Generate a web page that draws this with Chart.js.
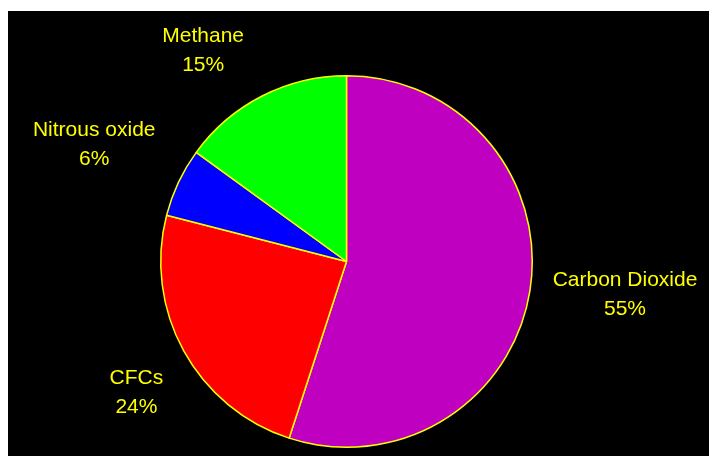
<!DOCTYPE html>
<html>
<head>
<meta charset="utf-8">
<script src="https://cdn.jsdelivr.net/npm/chart.js@4/dist/chart.umd.min.js"></script>
<style>
  html, body { margin: 0; padding: 0; background: #ffffff; width: 709px; height: 456px; overflow: hidden; }
  #wrap { position: absolute; left: 8px; top: 11px; width: 701px; height: 445px; background: #000000; }
  canvas { display: block; }
</style>
</head>
<body>
<div id="wrap"><canvas id="c" width="701" height="445"></canvas></div>
<script>
const categories = ["Carbon Dioxide", "CFCs", "Nitrous oxide", "Methane"];
const shares = [55, 24, 6, 15];
const sliceColors = ["#c000c0", "#ff0000", "#0000ff", "#00ff00"];

const labelPlugin = {
  id: "outerLabels",
  afterDatasetsDraw(chart, args, opts) {
    const ctx = chart.ctx;
    const meta = chart.getDatasetMeta(0);
    const total = shares.reduce((a, b) => a + b, 0);
    ctx.save();
    ctx.font = opts.font;
    ctx.fillStyle = opts.color;
    ctx.textAlign = "center";
    ctx.textBaseline = "middle";
    meta.data.forEach((arc, i) => {
      const p = arc.getProps(["x", "y", "startAngle", "endAngle", "outerRadius"], true);
      const mid = (p.startAngle + p.endAngle) / 2;
      const dx = Math.cos(mid), dy = Math.sin(mid);
      const line1 = categories[i];
      const line2 = Math.round(shares[i] / total * 100) + "%";
      const w = Math.max(ctx.measureText(line1).width, ctx.measureText(line2).width);
      const h = opts.lineGap + opts.textHeight;
      const ax = p.x + (p.outerRadius + opts.gap) * dx;
      const ay = p.y + (p.outerRadius + opts.gap) * dy;
      const n = opts.nudge[i] || [0, 0];
      const cx = ax + dx * w / 2 + n[0];
      const cy = ay + dy * h / 2 + n[1];
      ctx.fillText(line1, cx, cy - opts.lineGap / 2);
      ctx.fillText(line2, cx, cy + opts.lineGap / 2);
    });
    ctx.restore();
  }
};

new Chart(document.getElementById("c"), {
  type: "pie",
  data: {
    labels: categories,
    datasets: [{
      data: shares,
      backgroundColor: sliceColors,
      borderColor: "#ffff00",
      borderWidth: 1.5,
      hoverBorderWidth: 1.5,
      hoverOffset: 0
    }]
  },
  options: {
    responsive: false,
    animation: false,
    layout: { padding: { top: 64, bottom: 8, left: 152, right: 176 } },
    plugins: {
      legend: { display: false },
      tooltip: { enabled: false },
      outerLabels: {
        font: "21px 'Liberation Sans', Arial, sans-serif",
        color: "#ffff00",
        gap: 34,
        lineGap: 29,
        textHeight: 16,
        nudge: [[-10, -5], [6, 14], [2, -14], [-25, 5]]
      }
    }
  },
  plugins: [labelPlugin]
});
</script>
</body>
</html>
